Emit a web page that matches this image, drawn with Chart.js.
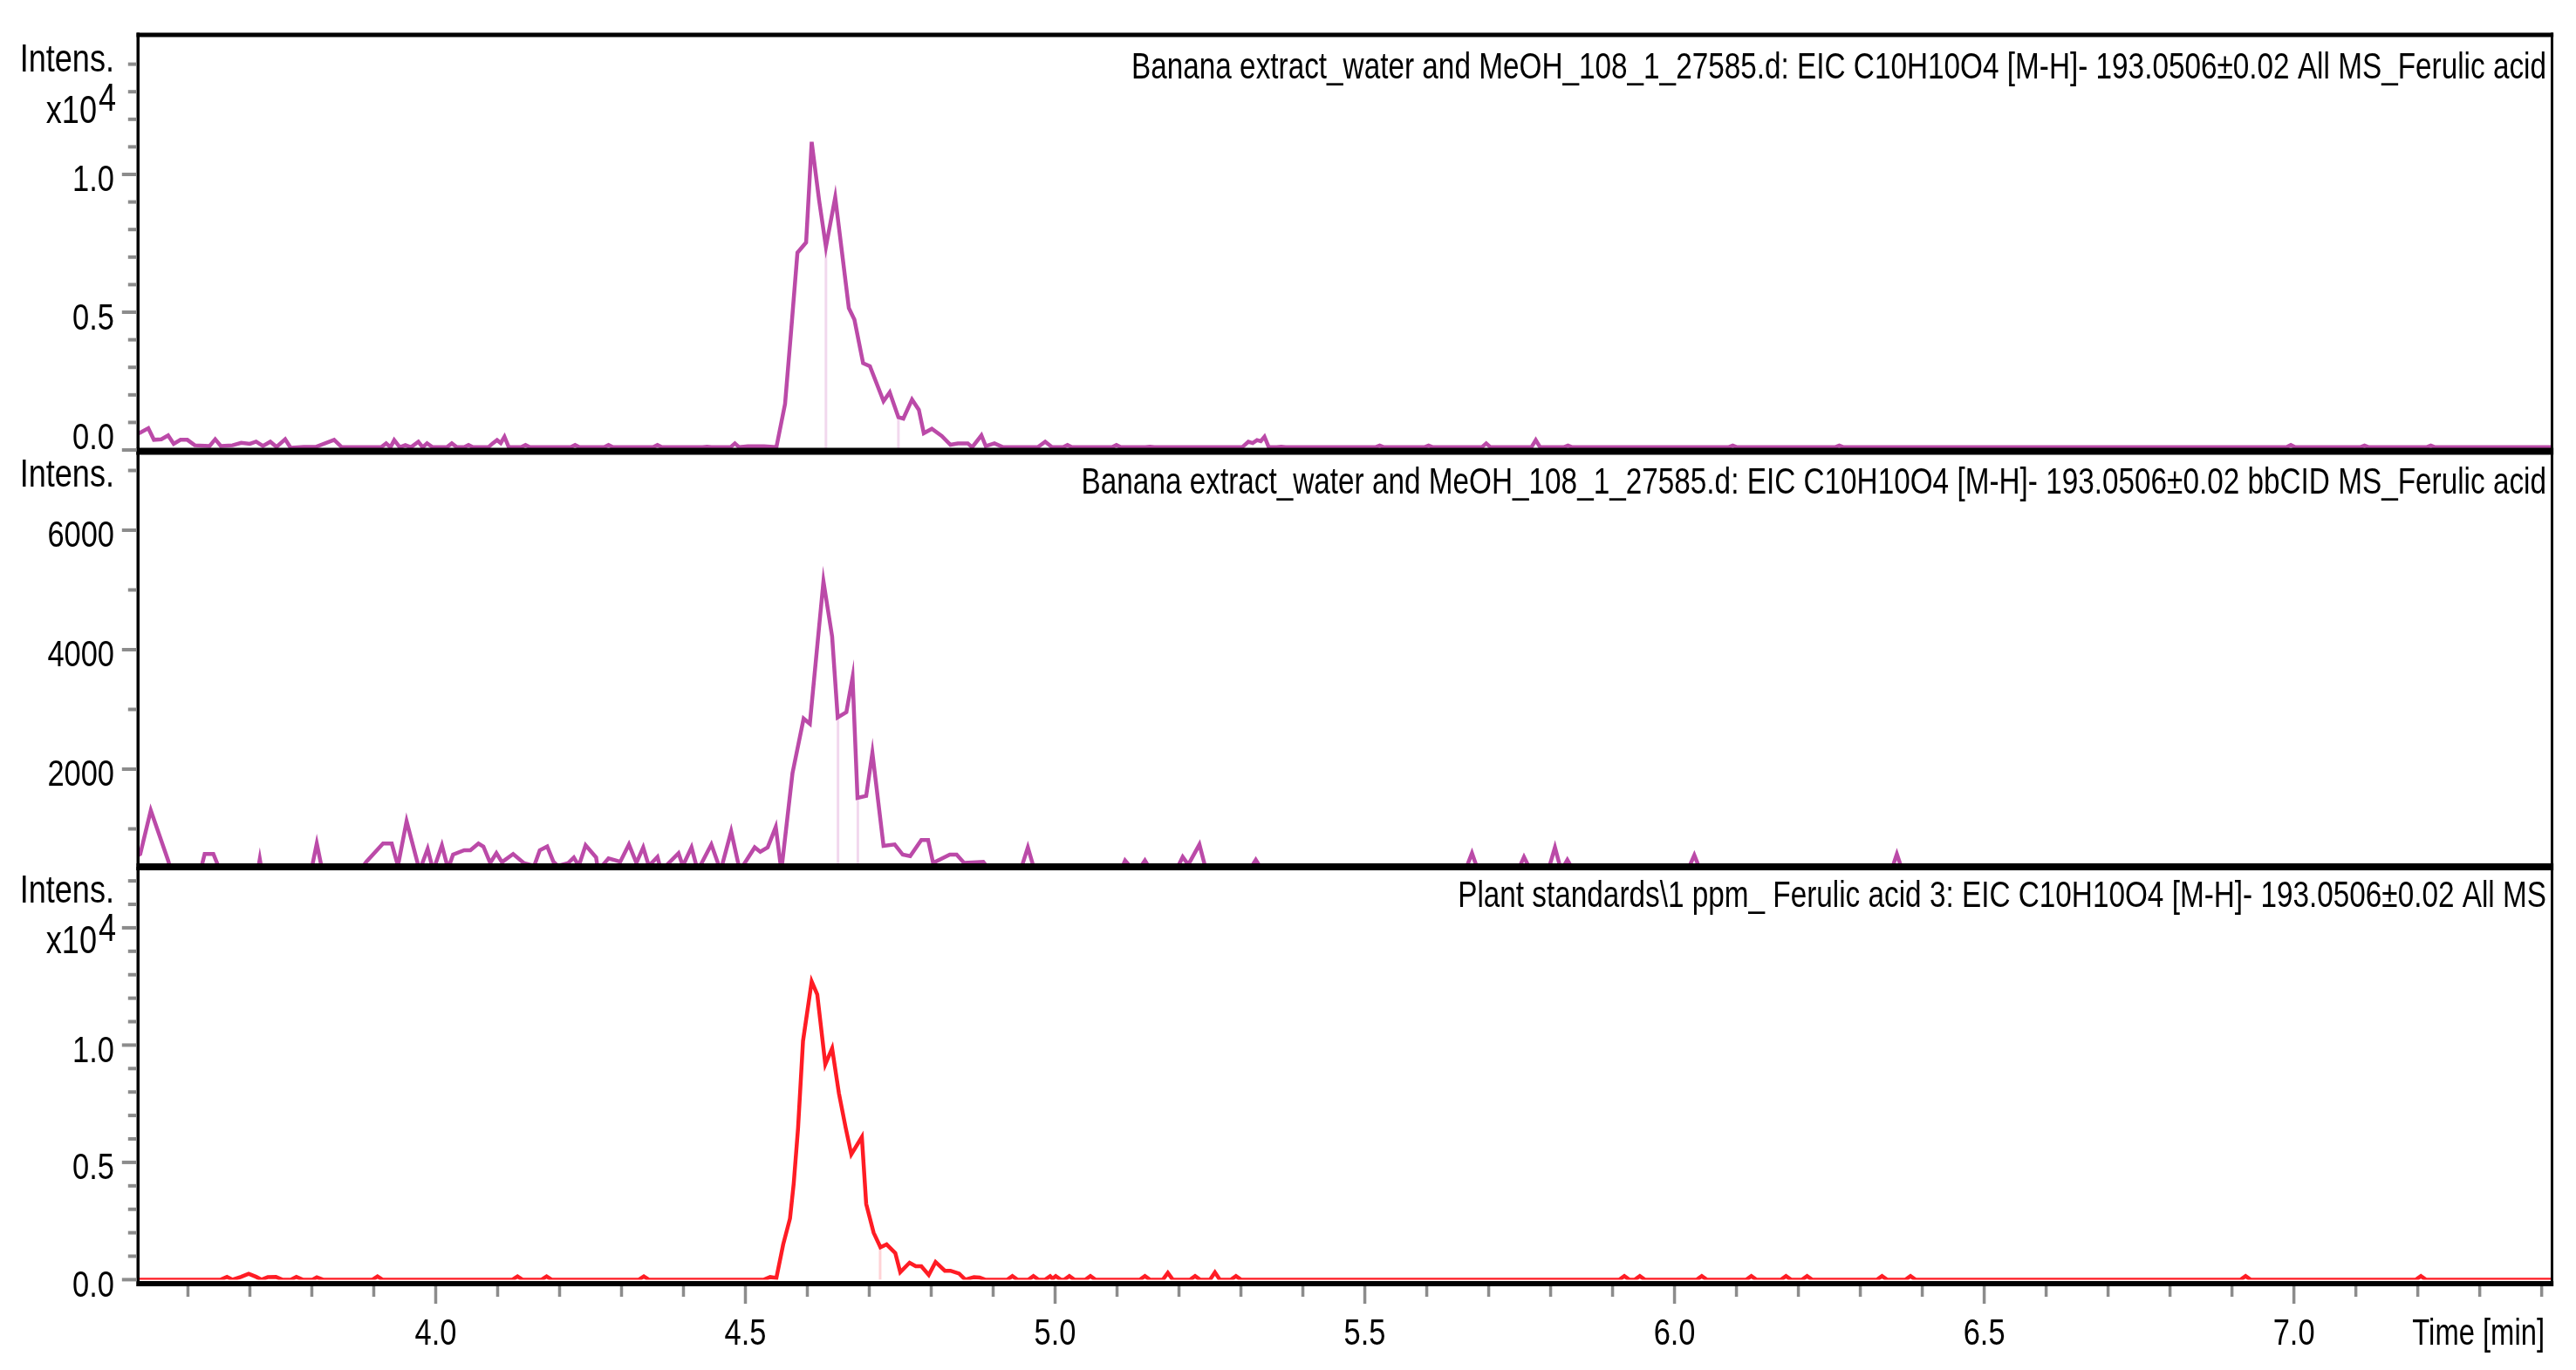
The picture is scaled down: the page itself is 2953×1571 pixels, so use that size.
<!DOCTYPE html>
<html>
<head>
<meta charset="utf-8">
<script src="https://cdn.jsdelivr.net/npm/chart.js@4.4.0/dist/chart.umd.min.js"></script>
<style>
  html, body { margin: 0; padding: 0; background: #ffffff; }
  #wrap { position: relative; width: 2953px; height: 1571px; background: #ffffff; }
  #wrap canvas { position: absolute; left: 0; top: 0; }
</style>
</head>
<body>
<div id="wrap">
  <canvas id="chartAllMs" width="2953" height="1571"></canvas>
  <canvas id="chartBbcid" width="2953" height="1571"></canvas>
  <canvas id="chartStandard" width="2953" height="1571"></canvas>
</div>
<script>

// ---- data (time in min, intensity in counts) ----

const allMsTitle = "Banana extract_water and MeOH_108_1_27585.d: EIC C10H10O4 [M-H]- 193.0506±0.02 All MS_Ferulic acid";
const bbcidTitle = "Banana extract_water and MeOH_108_1_27585.d: EIC C10H10O4 [M-H]- 193.0506±0.02 bbCID MS_Ferulic acid";
const standardTitle = "Plant standards\\1 ppm_ Ferulic acid 3: EIC C10H10O4 [M-H]- 193.0506±0.02 All MS";

const allMsTime = [
  3.520, 3.522, 3.536, 3.545, 3.557, 3.568, 3.577, 3.588, 3.599, 3.611, 3.635, 3.644, 3.653, 3.672, 3.686, 3.700,
  3.710, 3.721, 3.733, 3.743, 3.757, 3.766, 3.787, 3.806, 3.836, 3.848,
  3.912, 3.920, 3.927, 3.933, 3.942, 3.951, 3.960, 3.972, 3.979, 3.986, 3.995,
  4.018, 4.026, 4.034, 4.046, 4.053, 4.060, 4.085, 4.092, 4.099, 4.105, 4.111, 4.118,
  4.138, 4.145, 4.152, 4.218, 4.225, 4.232, 4.272, 4.279, 4.286, 4.351, 4.358, 4.365,
  4.431, 4.438, 4.445, 4.476, 4.483, 4.490, 4.504, 4.530, 4.550,
  4.564, 4.573, 4.584, 4.598, 4.607, 4.619, 4.630, 4.645, 4.667, 4.676, 4.690, 4.701,
  4.723, 4.733, 4.747, 4.755, 4.769, 4.780, 4.788, 4.801, 4.817, 4.831, 4.843, 4.859,
  4.866, 4.881, 4.888, 4.902, 4.916, 4.972, 4.984, 4.995,
  5.013, 5.020, 5.027, 5.092, 5.099, 5.106, 5.146, 5.153, 5.160,
  5.302, 5.312, 5.319, 5.326, 5.332, 5.338, 5.345, 5.358, 5.365, 5.372,
  5.517, 5.524, 5.531, 5.596, 5.603, 5.610, 5.689, 5.696, 5.703, 5.769, 5.776, 5.783,
  5.821, 5.828, 5.835, 6.087, 6.094, 6.101, 6.259, 6.266, 6.273,
  6.988, 6.995, 7.002, 7.107, 7.114, 7.121, 7.214, 7.221, 7.228, 7.416
];
const allMsIntensity = [
  600, 620, 790, 370, 390, 530, 225, 370, 370, 170, 145, 390, 145, 170, 258, 225,
  303, 145, 303, 110, 390, 76, 110, 110, 370, 110,
  100, 240, 100, 360, 100, 180, 100, 300, 100, 240, 100,
  100, 240, 100, 100, 180, 100, 100, 240, 360, 250, 480, 100,
  100, 180, 100, 100, 180, 100, 100, 180, 100, 100, 180, 100,
  100, 120, 100, 100, 240, 100, 136, 136, 100,
  1670, 4100, 7160, 7530, 11180, 9060, 7370, 9170, 5150, 4730, 3150, 3040,
  1770, 2090, 1190, 1140, 1830, 1460, 610, 770, 510, 190, 240, 240,
  100, 530, 140, 240, 100, 100, 300, 100,
  100, 180, 100, 100, 180, 100, 100, 120, 100,
  100, 300, 250, 360, 320, 480, 100, 100, 120, 100,
  100, 160, 100, 100, 160, 100, 100, 240, 100, 100, 360, 100,
  100, 160, 100, 100, 160, 100, 100, 160, 100,
  100, 180, 100, 100, 160, 100, 100, 160, 100, 100
];

const bbcidTime = [
  3.520, 3.523, 3.540, 3.568, 3.574, 3.619, 3.627, 3.641, 3.654, 3.712, 3.716, 3.720,
  3.798, 3.808, 3.818, 3.874, 3.888, 3.915, 3.929, 3.939, 3.953, 3.974, 3.987, 3.996,
  4.010, 4.020, 4.028, 4.046, 4.056, 4.069, 4.077, 4.088, 4.098, 4.107, 4.125, 4.142,
  4.159, 4.168, 4.180, 4.190, 4.197, 4.214, 4.223, 4.231, 4.242, 4.259, 4.262, 4.279,
  4.298, 4.312, 4.324, 4.335, 4.344, 4.358, 4.364, 4.392, 4.399, 4.413, 4.423, 4.445,
  4.460, 4.477, 4.491, 4.515, 4.524, 4.536, 4.549, 4.558,
  4.576, 4.594, 4.604, 4.626, 4.640, 4.649, 4.663, 4.673, 4.681, 4.695, 4.705, 4.723,
  4.741, 4.754, 4.766, 4.784, 4.795, 4.803, 4.830, 4.841, 4.853, 4.884, 4.895,
  4.944, 4.956, 4.967, 5.106, 5.113, 5.127, 5.134, 5.145, 5.155, 5.195, 5.206, 5.215,
  5.233, 5.244, 5.313, 5.324, 5.335, 5.662, 5.673, 5.683, 5.747, 5.757, 5.768,
  5.796, 5.807, 5.817, 5.827, 5.837, 6.021, 6.032, 6.042, 6.350, 6.359, 6.368, 7.416
];
const bbcidIntensity = [
  560, 580, 1310, 472, 250, 250, 580, 580, 250, 250, 496, 250,
  250, 755, 250, 250, 450, 755, 755, 380, 1129, 300, 667, 300,
  726, 330, 569, 642, 642, 755, 705, 430, 594, 443, 580, 430,
  380, 642, 705, 450, 380, 430, 521, 380, 726, 521, 300, 507,
  450, 740, 430, 691, 380, 530, 300, 594, 380, 691, 300, 740,
  300, 959, 300, 691, 618, 691, 1032, 300,
  1932, 2847, 2759, 5144, 4219, 2866, 2954, 3538, 1518, 1552, 2273, 715,
  740, 569, 545, 813, 813, 430, 569, 569, 430, 448, 300,
  300, 691, 300, 300, 472, 300, 300, 472, 300, 300, 530, 400,
  740, 300, 300, 482, 300, 300, 594, 300, 300, 530, 300,
  300, 691, 300, 482, 300, 300, 560, 300, 300, 580, 300, 300
];

const standardTime = [
  3.520, 3.653, 3.663, 3.672, 3.686, 3.698, 3.710, 3.719, 3.729, 3.742, 3.752, 3.766,
  3.775, 3.785, 3.801, 3.808, 3.818, 3.898, 3.906, 3.914, 4.124, 4.132, 4.140, 4.171,
  4.179, 4.187, 4.328, 4.336, 4.344, 4.530, 4.540, 4.550,
  4.561, 4.572, 4.578, 4.585, 4.593, 4.607, 4.616, 4.629, 4.640, 4.651, 4.662, 4.671,
  4.688, 4.695, 4.707, 4.718, 4.728, 4.742, 4.750, 4.765, 4.775, 4.784, 4.796, 4.807,
  4.822, 4.831, 4.845, 4.855, 4.869, 4.878, 4.887,
  4.923, 4.931, 4.939, 4.957, 4.965, 4.973, 4.984, 4.992, 4.996, 5.001, 5.009,
  5.015, 5.023, 5.031, 5.049, 5.057, 5.065, 5.137, 5.145, 5.153, 5.174, 5.182, 5.190,
  5.218, 5.226, 5.234, 5.250, 5.258, 5.266, 5.284, 5.292, 5.300,
  5.911, 5.919, 5.927, 5.936, 5.944, 5.952, 6.036, 6.044, 6.052, 6.116, 6.124, 6.132,
  6.172, 6.180, 6.188, 6.206, 6.214, 6.222, 6.327, 6.335, 6.343, 6.373, 6.381, 6.389,
  6.914, 6.922, 6.930, 7.197, 7.205, 7.213, 7.416
];
const standardIntensity = [
  0, 0, 120, 0, 120, 250, 120, 0, 110, 120, 0, 0,
  120, 0, 0, 100, 0, 0, 140, 0, 0, 140, 0, 0,
  140, 0, 0, 140, 0, 0, 110, 70,
  1500, 2610, 4100, 6460, 10170, 12710, 12160, 9180, 9860, 7940, 6460, 5340,
  6080, 3230, 2000, 1380, 1500, 1130, 320, 720, 570, 570, 200, 750,
  380, 380, 260, 0, 110, 90, 0,
  0, 150, 0, 0, 150, 0, 0, 150, 40, 150, 0,
  0, 150, 0, 0, 150, 0, 0, 150, 0, 0, 290, 0,
  0, 150, 0, 0, 310, 0, 0, 150, 0,
  0, 150, 0, 0, 150, 0, 0, 150, 0, 0, 150, 0,
  0, 150, 0, 0, 150, 0, 0, 150, 0, 0, 150, 0,
  0, 150, 0, 0, 150, 0, 0
];

// integration markers (faint vertical lines under the peaks)
const allMsMarkTime = [4.630, 4.747];
const allMsMarkTop = [7370, 1190];
const bbcidMarkTime = [4.6495, 4.6815];
const bbcidMarkTop = [2866, 1518];
const standardMarkTime = [4.7175];
const standardMarkTop = [1380];

// axis ticks
const timeTicks = [3.6, 3.7, 3.8, 3.9, 4.0, 4.1, 4.2, 4.3, 4.4, 4.5, 4.6, 4.7, 4.8, 4.9, 5.0, 5.1, 5.2, 5.3,
  5.4, 5.5, 5.6, 5.7, 5.8, 5.9, 6.0, 6.1, 6.2, 6.3, 6.4, 6.5, 6.6, 6.7, 6.8, 6.9, 7.0, 7.1, 7.2, 7.3, 7.4];
const timeLabelValues = [4.0, 4.5, 5.0, 5.5, 6.0, 6.5, 7.0];
const timeLabels = ['4.0', '4.5', '5.0', '5.5', '6.0', '6.5', '7.0'];

const allMsTicks = [0, 1000, 2000, 3000, 4000, 5000, 6000, 7000, 8000, 9000, 10000, 11000, 12000, 13000, 14000];
const allMsLabelValues = [0, 5000, 10000];
const allMsLabels = ['0.0', '0.5', '1.0'];

const bbcidTicks = [1000, 2000, 3000, 4000, 5000, 6000, 7000];
const bbcidLabelValues = [2000, 4000, 6000];
const bbcidLabels = ['2000', '4000', '6000'];

const standardTicks = [0, 1000, 2000, 3000, 4000, 5000, 6000, 7000, 8000, 9000, 10000, 11000, 12000,
  13000, 14000, 15000, 16000, 17000];
const standardLabelValues = [0, 5000, 10000, 15000];
const standardLabels = ['0.0', '0.5', '1.0', ''];

// ---- drawing ----

const PURPLE = '#bb4aa8';
const RED = '#ff1c24';
const TICK_GRAY = '#8c8c8c';
const FONT = '"Liberation Sans", Arial, sans-serif';
const NARROW = 0.82;

const PAGE_W = 2953;
const PAGE_H = 1571;
const AREA_LEFT = 158.3;
const AREA_RIGHT = 2925;
const TEXT_RIGHT = 2919;

let titleSqueeze = null;

function drawNarrow(ctx, text, x, y, align, size, squeeze) {
  ctx.save();
  ctx.font = size + 'px ' + FONT;
  ctx.textAlign = 'left';
  ctx.textBaseline = 'alphabetic';
  let w = ctx.measureText(text).width * squeeze;
  let left = x;
  if (align == 'right') left = x - w;
  if (align == 'center') left = x - w / 2;
  ctx.translate(left, y);
  ctx.scale(squeeze, 1);
  ctx.fillStyle = '#000000';
  ctx.fillText(text, 0, 0);
  ctx.restore();
}

const frames = {
  chartAllMs: {
    title: allMsTitle, titleBase: 90, intensBase: 82, expoBase: 141,
    topLine: [37.5, 5], bottomLine: [513.5, 8],
    ticks: allMsTicks, labelValues: allMsLabelValues, labels: allMsLabels, timeAxis: false
  },
  chartBbcid: {
    title: bbcidTitle, titleBase: 566, intensBase: 558, expoBase: null,
    topLine: null, bottomLine: [990, 8],
    ticks: bbcidTicks, labelValues: bbcidLabelValues, labels: bbcidLabels, timeAxis: false
  },
  chartStandard: {
    title: standardTitle, titleBase: 1040, intensBase: 1035, expoBase: 1093,
    topLine: null, bottomLine: [1469, 6],
    ticks: standardTicks, labelValues: standardLabelValues, labels: standardLabels, timeAxis: true
  }
};

const panelFrame = {
  id: 'panelFrame',
  afterDatasetsDraw(chart) {
    const f = frames[chart.canvas.id];
    const ctx = chart.ctx;
    const area = chart.chartArea;
    const yScale = chart.scales.y;
    const xScale = chart.scales.x;

    ctx.save();
    // frame lines
    ctx.fillStyle = '#000000';
    let top = f.topLine ? f.topLine[0] : area.top;
    let bottom = f.bottomLine[0] + f.bottomLine[1];
    ctx.fillRect(AREA_LEFT - 1.8, top, 3.5, bottom - top);
    ctx.fillRect(AREA_RIGHT - 1, top, 3, bottom - top);
    if (f.topLine) ctx.fillRect(AREA_LEFT - 1.8, f.topLine[0], AREA_RIGHT - AREA_LEFT + 4, f.topLine[1]);
    ctx.fillRect(AREA_LEFT - 1.8, f.bottomLine[0], AREA_RIGHT - AREA_LEFT + 4, f.bottomLine[1]);

    // intensity ticks
    ctx.fillStyle = TICK_GRAY;
    f.ticks.forEach(v => {
      let y = yScale.getPixelForValue(v);
      let len = f.labelValues.includes(v) ? 17 : 10;
      ctx.fillRect(AREA_LEFT - 1.5 - len, y - 2, len, 4);
    });
    ctx.restore();

    f.labelValues.forEach((v, i) => {
      if (!f.labels[i]) return;
      let y = yScale.getPixelForValue(v) + 19.5;
      if (!f.timeAxis && y > area.bottom - 3) y = area.bottom - 3;
      drawNarrow(ctx, f.labels[i], 131, y, 'right', 42, NARROW);
    });

    drawNarrow(ctx, 'Intens.', 131, f.intensBase, 'right', 44, NARROW);
    if (f.expoBase) {
      drawNarrow(ctx, 'x10', 111, f.expoBase, 'right', 44, NARROW);
      drawNarrow(ctx, '4', 113, f.expoBase - 14, 'left', 44, NARROW);
    }

    // title, squeezed like the original export
    if (titleSqueeze === null) {
      ctx.save();
      ctx.font = '43px ' + FONT;
      titleSqueeze = 1622 / ctx.measureText(allMsTitle).width;
      ctx.restore();
    }
    drawNarrow(ctx, f.title, TEXT_RIGHT, f.titleBase, 'right', 43, titleSqueeze);

    if (f.timeAxis) {
      ctx.save();
      ctx.fillStyle = TICK_GRAY;
      timeTicks.forEach(t => {
        let x = xScale.getPixelForValue(t);
        let len = timeLabelValues.includes(t) ? 20 : 12;
        ctx.fillRect(x - 1.75, f.bottomLine[0] + f.bottomLine[1], 3.5, len);
      });
      ctx.restore();
      timeLabelValues.forEach((t, i) => {
        drawNarrow(ctx, timeLabels[i], xScale.getPixelForValue(t), 1542, 'center', 42, NARROW);
      });
      drawNarrow(ctx, 'Time [min]', TEXT_RIGHT - 2, 1542, 'right', 42, 0.78);
    }
  }
};

function toPoints(times, values) {
  return times.map((t, i) => ({ x: t, y: values[i] }));
}

function markerPoints(times, tops, base) {
  let pts = [];
  times.forEach((t, i) => {
    pts.push({ x: t, y: tops[i] });
    pts.push({ x: t, y: base });
    pts.push({ x: t, y: null });
  });
  return pts;
}

function makePanel(id, series, marks, color, markColor, yMin, yMax, areaTop, areaBottom) {
  return new Chart(document.getElementById(id), {
    type: 'line',
    data: {
      datasets: [
        {
          data: series,
          borderColor: color,
          borderWidth: 4.5,
          pointRadius: 0,
          tension: 0,
          order: 0
        },
        {
          data: marks,
          borderColor: markColor,
          borderWidth: 3,
          pointRadius: 0,
          spanGaps: false,
          order: 1
        }
      ]
    },
    options: {
      responsive: false,
      animation: false,
      devicePixelRatio: 1,
      events: [],
      layout: {
        padding: { left: AREA_LEFT, right: PAGE_W - AREA_RIGHT, top: areaTop, bottom: PAGE_H - areaBottom }
      },
      plugins: { legend: { display: false }, tooltip: { enabled: false } },
      scales: {
        x: { type: 'linear', min: 3.5195, max: 7.416, display: false },
        y: { type: 'linear', min: yMin, max: yMax, display: false }
      }
    },
    plugins: [panelFrame]
  });
}

makePanel('chartAllMs', toPoints(allMsTime, allMsIntensity),
  markerPoints(allMsMarkTime, allMsMarkTop, 0), PURPLE, '#f2d8ee', -47, 15063, 40, 517.5);
makePanel('chartBbcid', toPoints(bbcidTime, bbcidIntensity),
  markerPoints(bbcidMarkTime, bbcidMarkTop, 365), PURPLE, '#f2d8ee', 365, 7321, 517.5, 994);
makePanel('chartStandard', toPoints(standardTime, standardIntensity),
  markerPoints(standardMarkTime, standardMarkTop, 0), RED, '#ffd3d6', 0, 17600, 994, 1467.4);

</script>
</body>
</html>
